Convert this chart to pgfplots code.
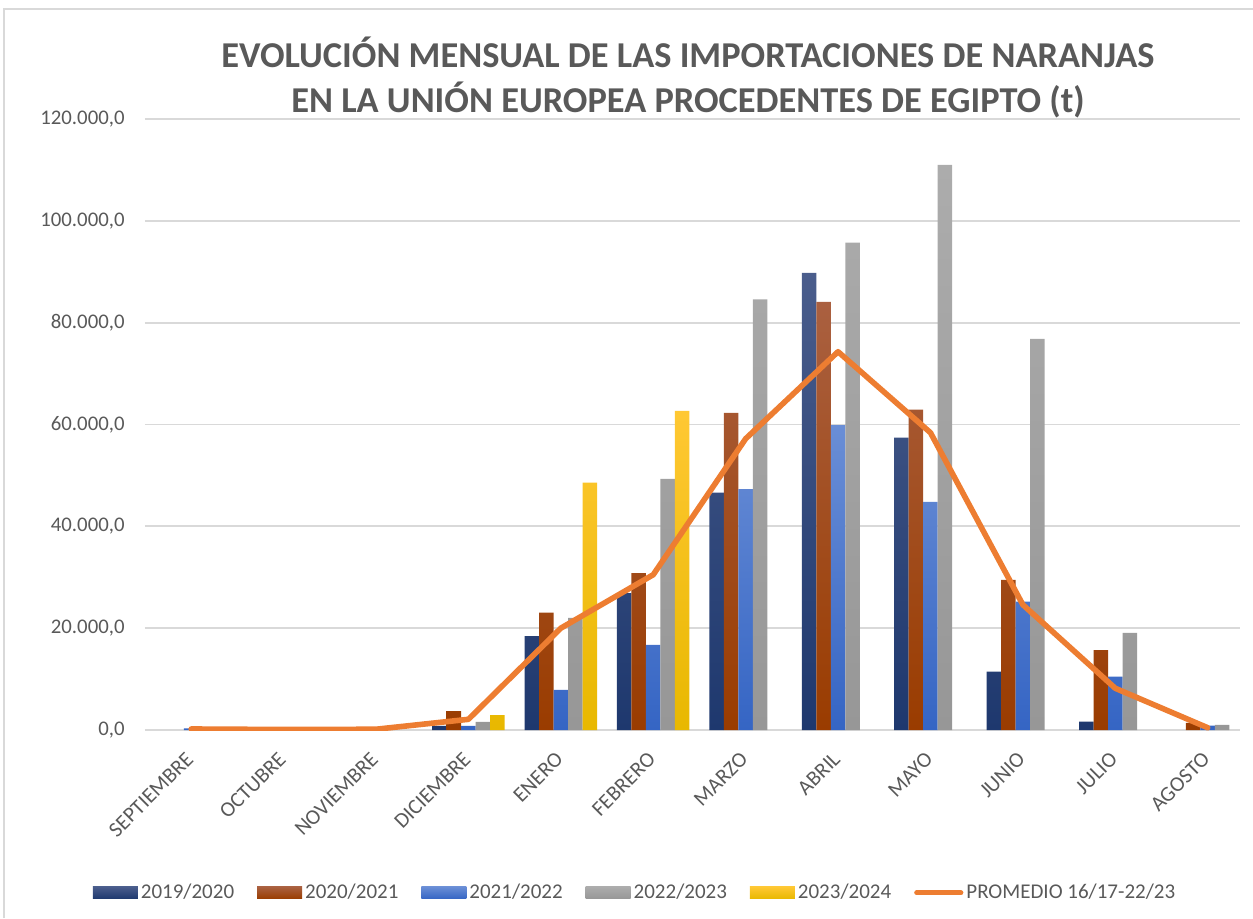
\documentclass[border=0pt]{standalone}
\usepackage{pgfplots}
\pgfplotsset{compat=1.18}
\usepackage{fontspec}
\setmainfont{Carlito}
\definecolor{txtgray}{HTML}{595959}
\definecolor{gridgray}{HTML}{D9D9D9}
\definecolor{navyT}{HTML}{4A5D8C}
\definecolor{navyB}{HTML}{1E386E}
\definecolor{brownT}{HTML}{AA6040}
\definecolor{brownB}{HTML}{9A3C00}
\definecolor{blueT}{HTML}{6A8ED6}
\definecolor{blueB}{HTML}{3565C4}
\definecolor{grayT}{HTML}{ACACAC}
\definecolor{grayB}{HTML}{979797}
\definecolor{yelT}{HTML}{FFC833}
\definecolor{yelB}{HTML}{E8B800}
\definecolor{orangeL}{HTML}{ED7D31}
\begin{document}
\begin{tikzpicture}
\useasboundingbox (0,0) rectangle (626.5pt,459pt);
\draw[gridgray, line width=1pt] (2pt,0pt) -- (2pt,454.5pt) -- (626.5pt,454.5pt);
\node[align=center, text=txtgray, font=\bfseries\fontsize{18.2}{22.5}\selectfont] at (344pt,420.5pt)
  {EVOLUCIÓN MENSUAL DE LAS IMPORTACIONES DE NARANJAS\\EN LA UNIÓN EUROPEA PROCEDENTES DE EGIPTO (t)};
\begin{axis}[
  at={(72.5pt,94pt)}, anchor=south west,
  scale only axis, width=547.5pt, height=305.5pt,
  xmin=-0.5, xmax=11.35, ymin=0, ymax=120000,
  xtick={0,...,11},
  xticklabels={SEPTIEMBRE,OCTUBRE,NOVIEMBRE,DICIEMBRE,ENERO,FEBRERO,MARZO,ABRIL,MAYO,JUNIO,JULIO,AGOSTO},
  xticklabel style={rotate=45, anchor=north east, inner sep=0pt, yshift=-4.9pt, xshift=-9.5pt, text=txtgray, font=\fontsize{10.7}{12}\selectfont},
  ytick={0,20000,...,120000},
  scaled y ticks=false,
  yticklabel style={text=txtgray, font=\fontsize{10.4}{12}\selectfont, inner sep=0pt, xshift=-10pt,
    /pgf/number format/.cd, fixed, fixed zerofill, precision=1, 1000 sep={.}, dec sep={,}, assume math mode=true},
  major tick length=0pt,
  axis line style={draw=none},
  ymajorgrids, grid style={gridgray, line width=0.9pt},
  legend columns=6,
  legend style={at={(0.448,-0.2665)}, anchor=center, draw=none, fill=none,
    font=\fontsize{10.5}{12}\selectfont, text=txtgray,
    /tikz/every even column/.append style={column sep=10pt},
    nodes={inner sep=1.5pt}},
  legend cell align=left,
  bar legend/.style={legend image code/.code={\path[##1,draw=none] (0pt,-3pt) rectangle (22.5pt,3pt);}},
]
\addplot[ybar, bar width=7.25pt, bar shift=-14.5pt, draw=none, top color=navyT, bottom color=navyB, bar legend] coordinates {
(3,800) (4,18460) (5,26900) (6,46600) (7,89800) (8,57400) (9,11450) (10,1630)};
\addlegendentry{2019/2020}
\addplot[ybar, bar width=7.25pt, bar shift=-7.25pt, draw=none, top color=brownT, bottom color=brownB, bar legend] coordinates {
(3,3700) (4,23040) (5,30800) (6,62300) (7,84100) (8,62900) (9,29500) (10,15700) (11,1400)};
\addlegendentry{2020/2021}
\addplot[ybar, bar width=7.25pt, bar shift=0pt, draw=none, top color=blueT, bottom color=blueB, bar legend] coordinates {
(0,300) (3,800) (4,7900) (5,16700) (6,47300) (7,59900) (8,44800) (9,25200) (10,10500) (11,850)};
\addlegendentry{2021/2022}
\addplot[ybar, bar width=7.25pt, bar shift=7.25pt, draw=none, top color=grayT, bottom color=grayB, bar legend] coordinates {
(3,1600) (4,22000) (5,49300) (6,84600) (7,95700) (8,111000) (9,76800) (10,19100) (11,1000)};
\addlegendentry{2022/2023}
\addplot[ybar, bar width=7.25pt, bar shift=14.5pt, draw=none, top color=yelT, bottom color=yelB, bar legend] coordinates {
(3,2900) (4,48600) (5,62700)};
\addlegendentry{2023/2024}
\addplot[orangeL, line width=2.8pt, line join=round, line cap=round, mark=none, sharp plot,
  legend image code/.code={\draw[orangeL, line width=2.6pt, line cap=round] (0pt,0pt) -- (22pt,0pt);}] coordinates {
(0,200) (1,100) (2,150) (3,2100) (4,20000) (5,30500) (6,57200) (7,74300) (8,58400) (9,24600) (10,8200) (11,450)};
\addlegendentry{PROMEDIO 16/17-22/23}
\end{axis}
\end{tikzpicture}
\end{document}
